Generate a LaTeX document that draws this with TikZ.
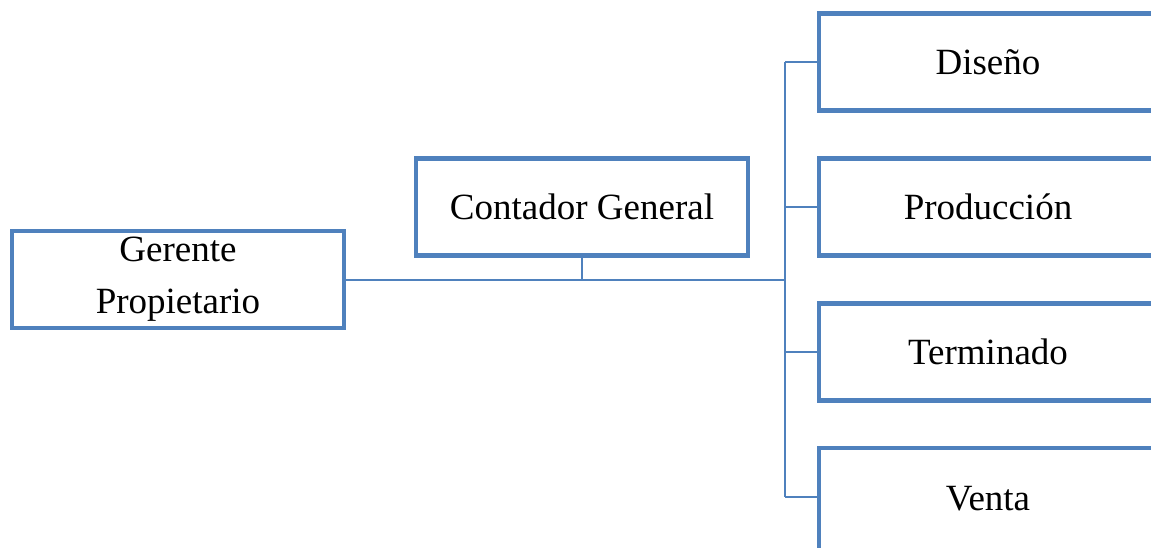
\documentclass[tikz,border=0pt]{standalone}
\usepackage{fontspec}
\setmainfont{Liberation Serif}
\usetikzlibrary{positioning}
\definecolor{boxblue}{RGB}{79,129,189}
\tikzset{box/.style = {draw=boxblue, line width=4.5pt,
                       minimum width=332pt, minimum height=97pt,
                       inner sep=0pt, align=center,
                       font=\fontsize{37}{52}\selectfont},
         area/.style = {box, minimum width=338pt},
         link/.style = {draw=boxblue, line width=2.8pt}}

\begin{document}
\begin{tikzpicture}[x=1pt, y=-1pt]
    \useasboundingbox (0, 0) rectangle (1151, 547);
    \clip (0, 0) rectangle (1151, 547);
    \node [box] (gerente) at (178, 279.5) {Gerente\\Propietario};
    \node [box] (contador) at (582, 207) {Contador General};
    \node [area] (diseno) at (988, 62) {Diseño};
    \node [area] (produccion) at (988, 207) {Producción};
    \node [area] (terminado) at (988, 352) {Terminado};
    % la caja de abajo queda cortada por el borde
    \node [area, minimum height=110pt, text depth=10pt] (venta) at (988, 503) {Venta};
    \coordinate (hub) at (785, 280);
    \coordinate (tail) at (785, 497);
    % tronco principal
    \draw [link] (gerente.east |- hub) -- (hub);
    \draw [link] (contador.south) -- (contador.south |- hub);
    \draw [link] (diseno.west -| hub) -- (tail);
    \foreach \n in {diseno, produccion, terminado}
      \draw [link] (\n.west -| hub) -- (\n.west);
    \draw [link] (tail) -- (tail -| venta.west);
  \end{tikzpicture}
\end{document}
